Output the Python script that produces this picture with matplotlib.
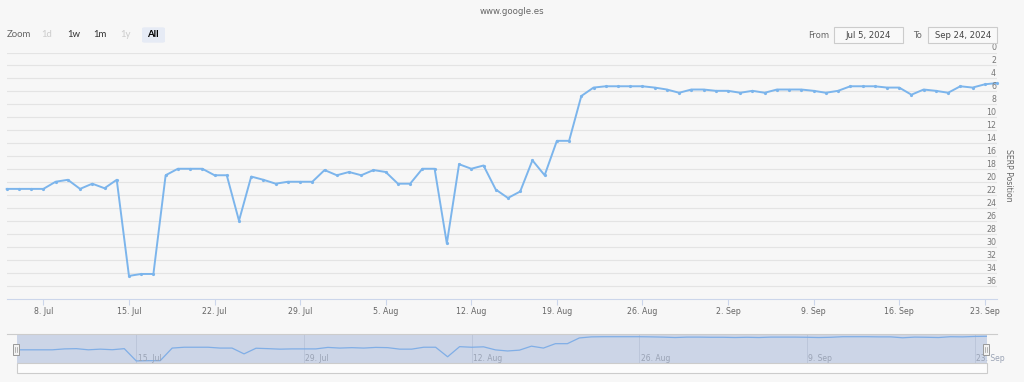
import matplotlib
matplotlib.use("Agg")
import matplotlib.pyplot as plt
import matplotlib.transforms as mtrans
from matplotlib.patches import Rectangle, FancyBboxPatch
from matplotlib.lines import Line2D
import pandas as pd

# ---------------- data ----------------
title = "www.google.es"
y_title = "SERP Position"
start_date = "2024-07-05"
end_date = "2024-09-24"
positions_jul = [21, 21, 21, 21, 19.9, 19.6, 21, 20.2, 20.9, 19.6, 34.4, 34.1, 34.1,
                 18.9, 17.9, 17.9, 17.9, 18.9, 18.9, 25.9, 19.1, 19.6, 20.2, 19.9,
                 19.9, 19.9, 18.1]
positions_aug = [18.9, 18.4, 18.9, 18.1, 18.4, 20.2, 20.2, 17.9, 17.9, 29.4, 17.2,
                 17.9, 17.4, 21.1, 22.4, 21.4, 16.6, 18.9, 13.6, 13.6, 6.7, 5.4,
                 5.2, 5.2, 5.2, 5.2, 5.4, 5.7, 6.2, 5.7, 5.7]
positions_sep = [5.9, 5.9, 6.2, 5.9, 6.2, 5.7, 5.7, 5.7, 5.9, 6.2, 5.9, 5.2, 5.2,
                 5.2, 5.4, 5.4, 6.5, 5.7, 5.9, 6.2, 5.2, 5.4, 4.9, 4.7]
y_ticks = list(range(0, 38, 2))
x_tick_start, x_tick_end = "2024-07-08", "2024-09-23"
nav_tick_start = "2024-07-15"
zoom_buttons = ["1d", "1w", "1m", "1y", "All"]
from_label, to_label = "Jul 5, 2024", "Sep 24, 2024"

dates = pd.date_range(start_date, end_date, freq="D")
values = positions_jul + positions_aug + positions_sep

# ---------------- figure ----------------
W, H = 1024, 382
BG = "#f7f7f7"
LINE = "#7cb5ec"
fig = plt.figure(figsize=(W / 100, H / 100), dpi=100, facecolor=BG)


def px_axes(l, t, r, b):
    return fig.add_axes([l / W, 1 - b / H, (r - l) / W, (b - t) / H])


def fx(x):
    return x / W


def fy(y):
    return 1 - y / H


def ftext(x, y, s, **kw):
    fig.text(fx(x), fy(y), s, **kw)


# ---------------- main chart ----------------
ax = px_axes(6.7, 52.5, 997, 299.3)
ax.set_facecolor(BG)
ax.plot(dates, values, color=LINE, lw=1.4, marker="o", ms=2.3, mew=0,
        clip_on=False, zorder=3)
ax.set_xlim(dates[0], dates[-1])
ax.set_ylim(38, 0)
ax.set_yticks(y_ticks)
ax.yaxis.grid(True, color="#e4e4e4", lw=0.8)
ax.tick_params(axis="y", length=0, labelleft=False, labelright=False)
for s in ["top", "left", "right"]:
    ax.spines[s].set_visible(False)
ax.spines["bottom"].set_color("#ccd6eb")
ax.spines["bottom"].set_linewidth(0.8)

xt = pd.date_range(x_tick_start, x_tick_end, freq="7D")
ax.set_xticks(xt)
ax.set_xticklabels([f"{d.day}. {d.strftime('%b')}" for d in xt])
ax.tick_params(axis="x", direction="out", length=4.3, width=0.8, color="#ccd6eb",
               labelsize=5.7, labelcolor="#666666", pad=1.0)

ylab_tr = mtrans.offset_copy(
    mtrans.blended_transform_factory(ax.transAxes, ax.transData),
    fig=fig, x=-1, y=0.2, units="dots")
for v in y_ticks:
    ax.text(1.0, v, str(v), transform=ylab_tr, ha="right", va="bottom",
            fontsize=5.7, color="#777777")

ftext(1008, 175.5, y_title, rotation=270, ha="center", va="center",
      fontsize=5.6, color="#666666")

# ---------------- title & controls ----------------
ftext(512, 11, title, ha="center", va="center", fontsize=6.2, color="#666666")

ftext(6.7, 34.5, "Zoom", ha="left", va="center", fontsize=6.9, color="#666666",
      family="Lato")
btn_x = [46.7, 73.3, 100, 126, 153.3]
btn_col = ["#cccccc", "#333333", "#333333", "#cccccc", "#000000"]
fig.patches.append(FancyBboxPatch((fx(142), fy(42.7)), fx(23), (42.7 - 27.3) / H,
                                  boxstyle="round,pad=0,rounding_size=0.003",
                                  transform=fig.transFigure, facecolor="#e6ebf5",
                                  edgecolor="none"))
for lab, x, c in zip(zoom_buttons, btn_x, btn_col):
    ftext(x, 34.5, lab, ha="center", va="center", fontsize=6.9, color=c,
          family="Lato", weight="bold" if lab == "All" else "normal")

ftext(829.5, 35, "From", ha="right", va="center", fontsize=6.1, color="#666666")
ftext(921.7, 35, "To", ha="right", va="center", fontsize=6.1, color="#666666")
for (l, r), txt in [((834, 902.7), from_label), ((928.3, 997), to_label)]:
    fig.patches.append(Rectangle((fx(l), fy(42.7)), (r - l) / W, (42.7 - 27.3) / H,
                                 transform=fig.transFigure, facecolor="#f9f9f9",
                                 edgecolor="#cccccc", lw=0.8))
    ftext((l + r) / 2, 35, txt, ha="center", va="center", fontsize=6.1,
          color="#444444")

# ---------------- navigator ----------------
nav = px_axes(16.5, 334.3, 986.5, 363)
nav.set_facecolor("#ccd5e7")
nav.plot(dates, values, color="#80aee6", lw=0.9)
nav.set_xlim(dates[0], dates[-1])
nav.set_ylim(36.9, 2.3)
nav.set_yticks([])
nt = pd.date_range(nav_tick_start, end_date, freq="14D")
nav.set_xticks(nt)
nav.xaxis.grid(True, color="#bcc6da", lw=0.7)
nav.tick_params(axis="x", length=0, labelbottom=False)
for s in nav.spines.values():
    s.set_visible(False)
nav_tr = mtrans.offset_copy(
    mtrans.blended_transform_factory(nav.transData, nav.transAxes),
    fig=fig, x=1.5, y=0, units="dots")
for d in nt:
    nav.text(d, 0.17, f"{d.day}. {d.strftime('%b')}", transform=nav_tr,
             ha="left", va="center", fontsize=5.5, color="#9aa3b5", clip_on=False)

# navigator outline / scrollbar / handles
fig.add_artist(Line2D([fx(6.7), fx(997)], [fy(334.3), fy(334.3)],
                      transform=fig.transFigure, color="#cccccc", lw=0.8))
fig.patches.append(Rectangle((fx(16.5), fy(373.3)), (986.5 - 16.5) / W,
                             (373.3 - 363) / H, transform=fig.transFigure,
                             facecolor="#fcfcfc", edgecolor="#cccccc", lw=0.8))
for hx in (16.3, 986.2):
    fig.patches.append(Rectangle((fx(hx - 3), fy(354.5)), 6 / W, 11 / H,
                                 transform=fig.transFigure, facecolor="#f2f2f2",
                                 edgecolor="#999999", lw=0.7, zorder=5))
    for dx in (-1, 1):
        fig.add_artist(Line2D([fx(hx + dx), fx(hx + dx)], [fy(346.5), fy(352)],
                              transform=fig.transFigure, color="#999999",
                              lw=0.5, zorder=6))

fig.savefig("out.png", dpi=100, facecolor=BG)
